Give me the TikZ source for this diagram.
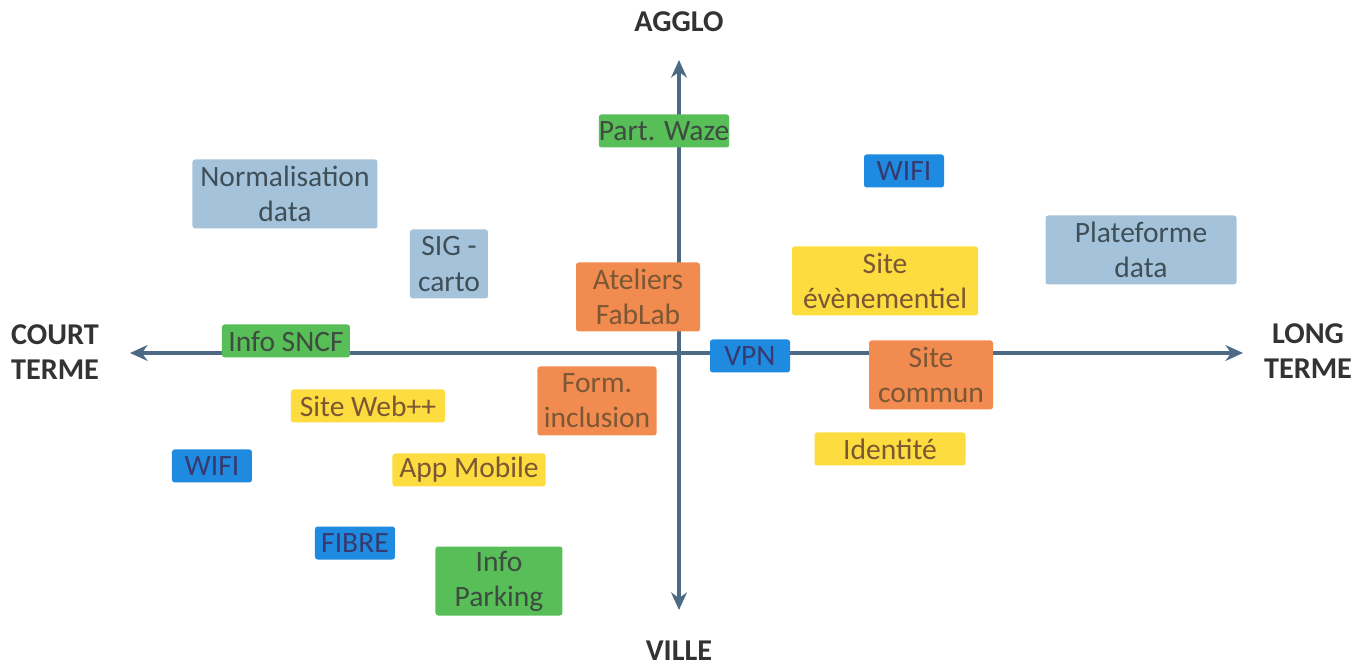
\documentclass[tikz,border=0pt]{standalone}
\usepackage{fontspec}
\setmainfont{Carlito}
\usepackage{xcolor}
\usetikzlibrary{arrows.meta}

\definecolor{axisblue}{HTML}{4D6A84}
\definecolor{labelgray}{HTML}{333333}
\definecolor{cgreen}{HTML}{58BE57}
\definecolor{cblue}{HTML}{1E8BE0}
\definecolor{cgrey}{HTML}{A4C3DA}
\definecolor{corange}{HTML}{F28B4F}
\definecolor{cyellow}{HTML}{FCDC3E}
\definecolor{tgreen}{HTML}{3E4B40}
\definecolor{tblue}{HTML}{373A70}
\definecolor{tgrey}{HTML}{3F4F58}
\definecolor{tbrown}{HTML}{7B5735}

\begin{document}
\begin{tikzpicture}[
    box/.style={rectangle, rounded corners=1.5pt, inner sep=0pt, align=center,
        font=\fontsize{16.8}{20}\selectfont, minimum height=0.66cm},
    tall/.style={minimum height=1.38cm},
    greenbox/.style={box, fill=cgreen, text=tgreen},
    bluebox/.style={box, fill=cblue, text=tblue, minimum width=1.6cm},
    greybox/.style={box, fill=cgrey, text=tgrey, tall},
    orangebox/.style={box, fill=corange, text=tbrown, tall},
    yellowbox/.style={box, fill=cyellow, text=tbrown},
    axislabel/.style={align=center, text=labelgray,
        font=\fontsize{17.2}{20}\selectfont\bfseries}
]
    \useasboundingbox (-13.58,-6.34) rectangle (13.76,7.06);

    % Axes
    \coordinate (top) at (0,5.86);
    \coordinate (bottom) at (0,-5.14);
    \coordinate (left) at (-10.98,0);
    \coordinate (right) at (11.28,0);
    \draw[axisblue, line width=2.2pt, {Stealth[length=10pt,width=9pt]}-{Stealth[length=10pt,width=9pt]}] (left) -- (right);
    \draw[axisblue, line width=2.2pt, {Stealth[length=10pt,width=9pt]}-{Stealth[length=10pt,width=9pt]}] (bottom) -- (top);

    \node[axislabel] (agglo) at (0,6.62) {AGGLO};
    \node[axislabel] (ville) at (0,-5.96) {VILLE};
    \node[axislabel] (court) at (-12.48,0.02) {COURT\\TERME};
    \node[axislabel] (long) at (12.58,0.04) {LONG\\TERME};

    % Upper half
    \node[greenbox, minimum width=2.52cm] (waze) at (-0.30,4.44) {Part. Waze};
    \node[bluebox] (wifitop) at (4.50,3.64) {WIFI};
    \node[greybox, minimum width=3.70cm] (normal) at (-7.88,3.18) {Normalisation\\data};
    \node[greybox, minimum width=3.82cm] (plateforme) at (9.24,2.06) {Plateforme\\data};
    \node[greybox, minimum width=1.56cm] (sig) at (-4.60,1.78) {SIG -\\carto};
    \node[orangebox, minimum width=2.48cm] (fablab) at (-0.82,1.12) {Ateliers\\FabLab};
    \node[yellowbox, tall, minimum width=3.72cm] (event) at (4.12,1.44) {Site\\évènementiel};

    % Along the axis
    \node[greenbox, minimum width=2.56cm] (sncf) at (-7.86,0.24) {Info SNCF};
    \node[bluebox] (vpn) at (1.42,-0.06) {VPN};
    \node[orangebox, minimum width=2.48cm] (commun) at (5.04,-0.44) {Site\\commun};

    % Lower half
    \node[orangebox, minimum width=2.38cm] (inclusion) at (-1.64,-0.96) {Form.\\inclusion};
    \node[yellowbox, minimum width=3.08cm] (web) at (-6.22,-1.06) {Site Web++};
    \node[yellowbox, minimum width=3.02cm] (identite) at (4.22,-1.92) {Identité};
    \node[bluebox] (wifileft) at (-9.34,-2.26) {WIFI};
    \node[yellowbox, minimum width=3.06cm] (app) at (-4.20,-2.34) {App Mobile};
    \node[bluebox] (fibre) at (-6.48,-3.80) {FIBRE};
    \node[greenbox, tall, minimum width=2.54cm] (parking) at (-3.60,-4.56) {Info\\Parking};
\end{tikzpicture}
\end{document}
